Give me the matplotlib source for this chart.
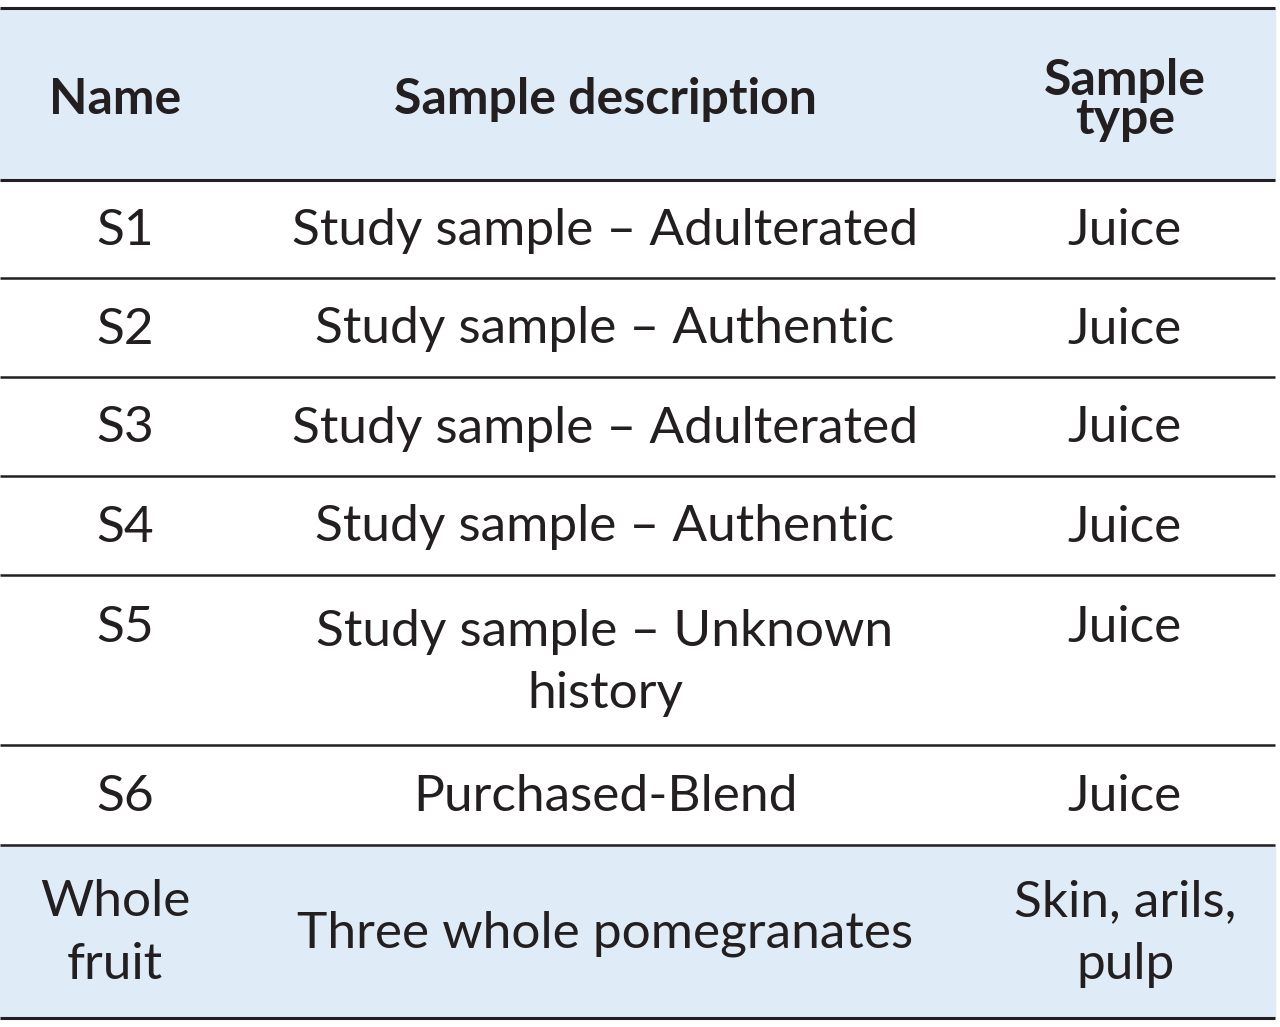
import matplotlib
matplotlib.use("Agg")
import matplotlib.pyplot as plt
from matplotlib.patches import Rectangle

headers = ["Name", "Sample description", "Sample\ntype"]
names = ["S1", "S2", "S3", "S4", "S5", "S6", "Whole\nfruit"]
descriptions = ["Study sample – Adulterated", "Study sample – Authentic",
                "Study sample – Adulterated", "Study sample – Authentic",
                "Study sample – Unknown\nhistory", "Purchased-Blend",
                "Three whole pomegranates"]
types = ["Juice", "Juice", "Juice", "Juice", "Juice", "Juice", "Skin, arils,\npulp"]

bounds = [8, 180, 278, 377, 476, 575, 745, 845, 1018]
col_x = [115, 605, 1125]
row_name_x = [125, 125, 125, 125, 125, 125, 115]
blue = "#dfebf6"
ink = "#231f20"

fig = plt.figure(figsize=(12.8, 10.27), dpi=100)
ax = fig.add_axes([0, 0, 1, 1])
ax.set_xlim(0, 1280)
ax.set_ylim(1027, 0)
ax.axis("off")

font = "Lato"
# header
ax.add_patch(Rectangle((0, bounds[0]), 1275, bounds[1] - bounds[0], color=blue, zorder=0))
ax.add_patch(Rectangle((0, bounds[7]), 1275, bounds[8] - bounds[7], color=blue, zorder=0))
hy = (bounds[0] + bounds[1]) / 2 + 6
for x, h in zip(col_x, headers):
    ax.text(x, hy, h, ha="center", va="center", fontsize=36, fontweight="bold",
            family=font, color=ink, linespacing=0.85)

for i in range(len(names)):
    top, bot = bounds[i + 1], bounds[i + 2]
    if i == 4:
        yc = 628
        ax.text(col_x[1], (top + bot) / 2 + 3, descriptions[i], ha="center", va="center",
                fontsize=37, family=font, color=ink, linespacing=1.45)
        ax.text(row_name_x[i], yc, names[i], ha="center", va="center", fontsize=37, family=font, color=ink)
        ax.text(col_x[2], yc, types[i], ha="center", va="center", fontsize=37, family=font, color=ink)
        continue
    yc = (top + bot) / 2 + 2
    ax.text(row_name_x[i], yc, names[i], ha="center", va="center", fontsize=37,
            family=font, color=ink, linespacing=1.45)
    ax.text(col_x[1], yc, descriptions[i], ha="center", va="center", fontsize=37,
            family=font, color=ink)
    ax.text(col_x[2], yc, types[i], ha="center", va="center", fontsize=37,
            family=font, color=ink, linespacing=1.45)

for j, b in enumerate(bounds):
    lw = 2.2 if j in (0, 1, len(bounds) - 1) else 1.8
    ax.plot([0, 1275], [b, b], color=ink, lw=lw, solid_capstyle="butt")

fig.savefig("out.png", dpi=100)
